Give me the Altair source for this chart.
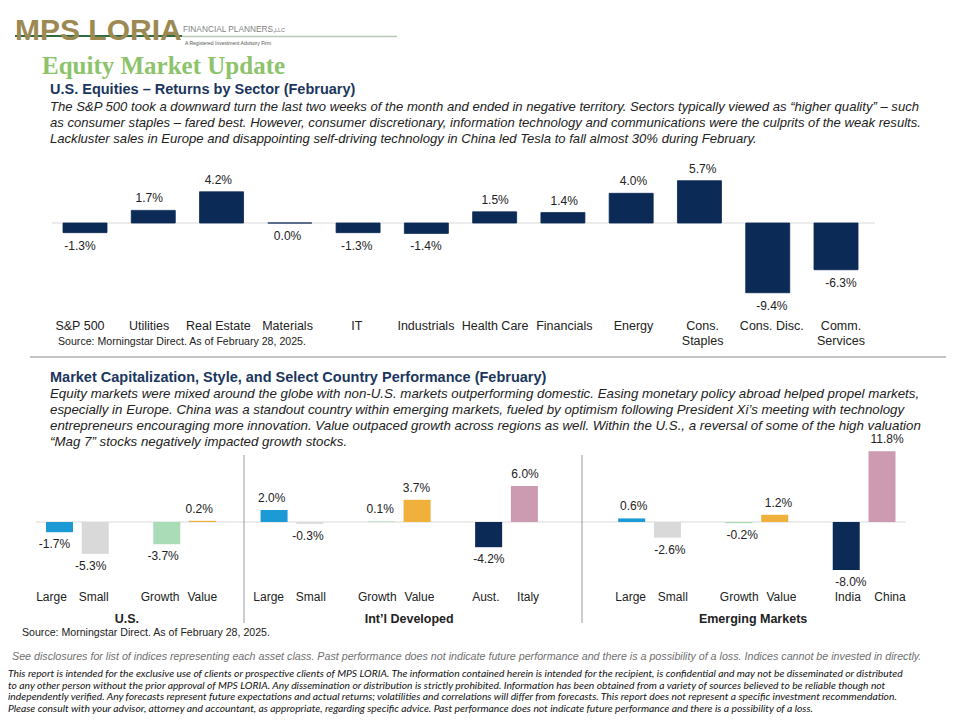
import altair as alt
import pandas as pd

# ---------------- data ----------------
sector_names = ["S&P 500", "Utilities", "Real Estate", "Materials", "IT", "Industrials",
                "Health Care", "Financials", "Energy", "Cons.\nStaples", "Cons. Disc.", "Comm.\nServices"]
sector_returns = [-1.3, 1.7, 4.2, 0.0, -1.3, -1.4, 1.5, 1.4, 4.0, 5.7, -9.4, -6.3]

style_labels = ["Large", "Small", "Growth", "Value",
                "Large", "Small", "Growth", "Value", "Aust.", "Italy",
                "Large", "Small", "Growth", "Value", "India", "China"]
style_kinds = ["Large", "Small", "Growth", "Value",
               "Large", "Small", "Growth", "Value", "Country 1", "Country 2",
               "Large", "Small", "Growth", "Value", "Country 1", "Country 2"]
style_returns = [-1.7, -5.3, -3.7, 0.2,
                 2.0, -0.3, 0.1, 3.7, -4.2, 6.0,
                 0.6, -2.6, -0.2, 1.2, -8.0, 11.8]
group_names = ["U.S.", "Int\u2019l Developed", "Emerging Markets"]

logo_main = "MPS LORIA"
logo_sub = "FINANCIAL PLANNERS,"
logo_llc = "LLC"
logo_tag = "A Registered Investment Advisory Firm"
page_title = "Equity Market Update"
title_1 = "U.S. Equities \u2013 Returns by Sector (February)"
para_1 = [
    "The S&P 500 took a downward  turn the last two weeks of the month and ended in negative territory.  Sectors typically viewed  as \u201chigher quality\u201d \u2013 such",
    "as consumer staples \u2013 fared best. However,  consumer discretionary,  information technology and communications were  the culprits of the weak results.",
    "Lackluster sales in Europe and disappointing self-driving technology  in China led Tesla to fall almost 30% during February.",
]
title_2 = "Market Capitalization, Style, and Select Country Performance (February)"
para_2 = [
    "Equity markets were  mixed around  the globe with non-U.S. markets outperforming  domestic. Easing monetary  policy abroad helped propel  markets,",
    "especially in Europe. China was  a standout country within emerging markets, fueled by optimism following  President Xi\u2019s meeting with technology",
    "entrepreneurs  encouraging  more innovation.  Value outpaced growth  across regions as well.  Within the U.S., a reversal  of some of the high valuation",
    "\u201cMag 7\u201d stocks negatively impacted growth  stocks.",
]
source_text = "Source: Morningstar Direct.  As of February 28, 2025."
footer_1 = "See disclosures for list of indices representing each asset class. Past performance does not indicate future performance and there is a possibility of a loss. Indices cannot be invested in directly."
footer_2 = [
    "This report is intended for the exclusive use of clients or prospective clients of MPS LORIA. The information contained herein is intended for the recipient, is confidential and may not be disseminated or distributed",
    "to any other person without the prior approval of MPS LORIA. Any dissemination or distribution is strictly prohibited. Information has been obtained from a variety of sources believed to be reliable though not",
    "independently verified. Any forecasts represent future expectations and actual returns; volatilities and correlations will differ from forecasts. This report does not represent a specific investment recommendation.",
    "Please consult with your advisor, attorney and accountant, as appropriate, regarding specific advice. Past performance does not indicate future performance and there is a possibility of a loss.",
]

# ---------------- layout / style ----------------
W, H = 944, 712
SANS = "Liberation Sans, Arial, sans-serif"
SERIF = "Liberation Serif, serif"
CAL = "Lato, Open Sans, sans-serif"
NAVY = "#0b2a55"
TITLE_NAVY = "#1b365d"
TXT = "#222222"
kind_domain = ["Large", "Small", "Growth", "Value", "Country 1", "Country 2"]
kind_colors = ["#1c9ad6", "#d9d9d9", "#a9dcb7", "#f0b03c", "#0b2a55", "#cc9ab1"]
SLOTS = [0, 1, 3, 4, 6, 7, 9, 10, 12, 13, 16, 17, 19, 20, 22, 23]
GROUP_SLOTS = [2.0, 9.8, 19.3]


def P(v):  # page pixel -> chart pixel
    return v - 8


one = pd.DataFrame({"k": [0]})


def text_layer(lines, x, y, size, color=TXT, font=SANS, weight="normal", style="normal",
               lh=None, align="left", baseline="alphabetic"):
    mk = dict(text=lines, fontSize=size, color=color, font=font, fontWeight=weight,
              fontStyle=style, align=align, baseline=baseline)
    if lh:
        mk["lineHeight"] = lh
    return alt.Chart(one).mark_text(**mk).encode(x=alt.value(P(x)), y=alt.value(P(y)))


def hrule(x1, x2, y, color, w):
    return alt.Chart(one).mark_rule(color=color, strokeWidth=w).encode(
        x=alt.value(P(x1)), x2=alt.value(P(x2)), y=alt.value(P(y)))


layers = []

# header
layers.append(hrule(15, 182, 36, "#2f6b40", 2))
layers.append(hrule(182, 397, 36.5, "#b7c9b9", 1.5))
layers.append(text_layer(logo_main, 15, 40, 30, color="#9c8a52", weight="bold"))
layers.append(text_layer(logo_sub, 183, 32, 8.3, color="#808080"))
layers.append(text_layer(logo_llc, 275, 32, 5.5, color="#808080"))
layers.append(text_layer(logo_tag, 185, 45, 5, color="#555555"))
layers.append(text_layer(page_title, 42, 74, 25, color="#8dc36b", font=SERIF, weight="bold"))
layers.append(text_layer(title_1, 50, 94, 14.5, color=TITLE_NAVY, weight="bold"))
layers.append(text_layer(para_1, 50, 111, 13.1, color=TXT, style="italic", lh=16))

# ---------------- top chart ----------------
top_df = pd.DataFrame({"sector": sector_names, "ret": sector_returns,
                       "idx": list(range(len(sector_names)))})
top_df["label"] = [f"{v:.1f}%" for v in sector_returns]
tx = alt.Scale(domain=[0, 11], range=[P(80), P(841)], nice=False, zero=False)
zero_top = P(223)
ppu_top = 7.42
ty = alt.Scale(domain=[-10, 6], range=[zero_top + 10 * ppu_top, zero_top - 6 * ppu_top],
               nice=False, zero=False)

layers.append(alt.Chart(one).mark_rule(color="#d9d9d9", strokeWidth=1.2).encode(
    y=alt.YDatum(0, type="quantitative", scale=ty, axis=None),
    x=alt.value(P(52)), x2=alt.value(P(875))))
top_base = alt.Chart(top_df)
layers.append(top_base.mark_bar(size=44, color=NAVY, stroke=NAVY, strokeWidth=0.8,
                                orient="vertical").encode(
    x=alt.X("idx:Q", scale=tx, axis=None),
    y=alt.Y("ret:Q", scale=ty, axis=None),
    y2=alt.Y2Datum(0)))
layers.append(top_base.transform_filter("datum.ret > 0").mark_text(
    fontSize=12, font=SANS, color=TXT, baseline="bottom", dy=-5).encode(
    x=alt.X("idx:Q", scale=tx, axis=None), y=alt.Y("ret:Q", scale=ty, axis=None), text="label:N"))
layers.append(top_base.transform_filter("datum.ret <= 0").mark_text(
    fontSize=12, font=SANS, color=TXT, baseline="top", dy=8).encode(
    x=alt.X("idx:Q", scale=tx, axis=None), y=alt.Y("ret:Q", scale=ty, axis=None), text="label:N"))
layers.append(top_base.mark_text(
    fontSize=12.5, font=SANS, color=TXT, baseline="top", lineBreak="\n", lineHeight=15).encode(
    x=alt.X("idx:Q", scale=tx, axis=None), y=alt.value(P(320)), text="sector:N"))
layers.append(text_layer(source_text, 58, 345, 10.6, color=TXT))
layers.append(hrule(30, 946, 357, "#c4c4c4", 2))

# middle text
layers.append(text_layer(title_2, 50, 382, 14.5, color=TITLE_NAVY, weight="bold"))
layers.append(text_layer(para_2, 50, 398, 13.3, color=TXT, style="italic", lh=16))

# ---------------- bottom chart ----------------
bot_df = pd.DataFrame({"label": style_labels, "kind": style_kinds, "ret": style_returns, "slot": SLOTS})
bot_df["vlabel"] = [f"{v:.1f}%" for v in style_returns]
bot_df["first"] = [i % 2 == 0 for i in range(len(style_labels))]
grp_df = pd.DataFrame({"group": group_names, "slot": GROUP_SLOTS})
bx = alt.Scale(domain=[0, 23], range=[P(54.5), P(887)], nice=False, zero=False)
zero_bot = P(522)
ppu_bot = 6.0
by = alt.Scale(domain=[-9, 13], range=[zero_bot + 9 * ppu_bot, zero_bot - 13 * ppu_bot],
               nice=False, zero=False)

layers.append(alt.Chart(one).mark_rule(color="#d9d9d9", strokeWidth=1.2).encode(
    y=alt.YDatum(0, type="quantitative", scale=by, axis=None),
    x=alt.value(P(36)), x2=alt.value(P(906))))
for xd in (244, 582):
    layers.append(alt.Chart(one).mark_rule(color="#9a9a9a", strokeWidth=1).encode(
        x=alt.value(P(xd)), y=alt.value(P(455)), y2=alt.value(P(623))))
bot_base = alt.Chart(bot_df)
layers.append(bot_base.mark_bar(size=27, orient="vertical").encode(
    x=alt.X("slot:Q", scale=bx, axis=None),
    y=alt.Y("ret:Q", scale=by, axis=None),
    y2=alt.Y2Datum(0),
    color=alt.Color("kind:N", scale=alt.Scale(domain=kind_domain, range=kind_colors), legend=None)))
layers.append(bot_base.transform_filter("datum.ret > 0").mark_text(
    fontSize=12, font=SANS, color=TXT, baseline="bottom", dy=-5).encode(
    x=alt.X("slot:Q", scale=bx, axis=None), y=alt.Y("ret:Q", scale=by, axis=None), text="vlabel:N"))
layers.append(bot_base.transform_filter("datum.ret <= 0").mark_text(
    fontSize=12, font=SANS, color=TXT, baseline="top", dy=7).encode(
    x=alt.X("slot:Q", scale=bx, axis=None), y=alt.Y("ret:Q", scale=by, axis=None), text="vlabel:N"))
layers.append(bot_base.transform_filter("datum.first").mark_text(
    fontSize=12, font=SANS, color=TXT, baseline="middle", dx=-3).encode(
    x=alt.X("slot:Q", scale=bx, axis=None), y=alt.value(P(597)), text="label:N"))
layers.append(bot_base.transform_filter("!datum.first").mark_text(
    fontSize=12, font=SANS, color=TXT, baseline="middle", dx=3).encode(
    x=alt.X("slot:Q", scale=bx, axis=None), y=alt.value(P(597)), text="label:N"))
layers.append(alt.Chart(grp_df).mark_text(fontSize=12.5, font=SANS, fontWeight="bold",
                                          color=TXT, baseline="middle").encode(
    x=alt.X("slot:Q", scale=bx, axis=None), y=alt.value(P(619)), text="group:N"))
layers.append(text_layer(source_text, 22, 636, 10.6, color=TXT))

# footer
layers.append(text_layer(footer_1, 12, 660, 10.7, color="#707070", style="italic"))
layers.append(text_layer(footer_2, 8, 677, 10.3, color="#111111", font=CAL, style="italic", lh=11.7))

chart = alt.layer(*layers).resolve_scale(
    x="independent", y="independent", color="independent"
).properties(
    width=W, height=H, padding=0, autosize="none", background="white"
).configure_view(stroke=None)

chart.save("out.html", embed_options={"renderer": "svg", "actions": False})
